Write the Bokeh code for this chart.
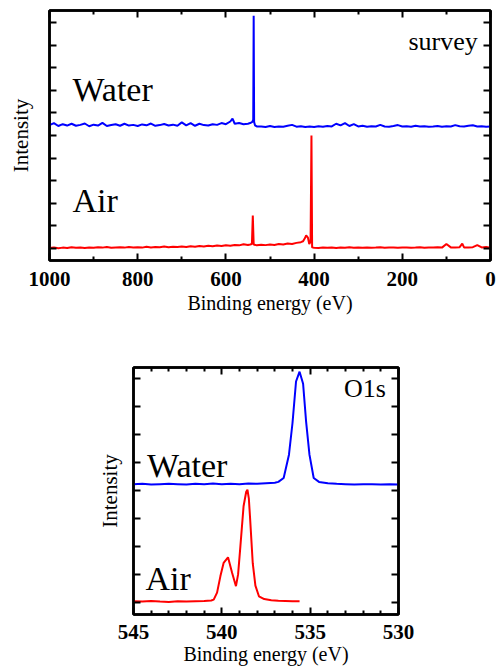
from bokeh.plotting import figure
from bokeh.models import Range1d, LinearAxis, FixedTicker, Label, CustomJSTickFormatter
from bokeh.embed import file_html
from bokeh.resources import INLINE

# ---------------- data: survey spectra ----------------
WATER_SURVEY_EV = [1000, 990, 980, 970, 960, 950, 940, 930, 920, 910,
                   900, 890, 880, 870, 860, 850, 840, 830, 820, 810,
                   800, 790, 780, 770, 760, 750, 740, 730, 720, 710,
                   700, 690, 680, 670, 660, 650, 640, 630, 620, 610,
                   600, 590, 585, 580, 570, 560, 550, 545, 540, 538, 537, 536, 534, 530,
                   520, 510, 500, 490, 480, 470, 460, 450, 440, 430,
                   420, 410, 400, 390, 380, 370, 360, 350, 340, 330,
                   320, 310, 300, 290, 280, 270, 260, 250, 240, 230,
                   220, 210, 200, 190, 180, 170, 160, 150, 140, 130,
                   120, 110, 100, 90, 80, 70, 60, 50, 40, 30, 20, 10, 0]
WATER_SURVEY_I = [5.46, 5.55, 5.42, 5.50, 5.44, 5.52, 5.43, 5.47, 5.53, 5.41,
                  5.48, 5.44, 5.56, 5.42, 5.46, 5.50, 5.43, 5.52, 5.44, 5.47,
                  5.42, 5.49, 5.45, 5.53, 5.43, 5.46, 5.51, 5.44, 5.48, 5.43,
                  5.58, 5.45, 5.55, 5.43, 5.52, 5.46, 5.44, 5.50, 5.47, 5.55,
                  5.50, 5.62, 5.75, 5.52, 5.55, 5.50, 5.52, 5.55, 5.60, 5.70, 10.30, 5.60, 5.45, 5.40,
                  5.40, 5.38, 5.42, 5.38, 5.40, 5.39, 5.43, 5.47, 5.39, 5.41,
                  5.38, 5.40, 5.38, 5.41, 5.39, 5.42, 5.40, 5.52, 5.45, 5.55,
                  5.42, 5.50, 5.40, 5.43, 5.39, 5.41, 5.40, 5.47, 5.40, 5.39,
                  5.42, 5.46, 5.40, 5.41, 5.39, 5.43, 5.40, 5.41, 5.39, 5.40,
                  5.42, 5.39, 5.41, 5.40, 5.46, 5.41, 5.40, 5.43, 5.45, 5.40, 5.41, 5.39, 5.40]

AIR_SURVEY_EV = [1000, 990, 980, 970, 960, 950, 940, 930, 920, 910,
                 900, 890, 880, 870, 860, 850, 840, 830, 820, 810,
                 800, 790, 780, 770, 760, 750, 740, 730, 720, 710,
                 700, 690, 680, 670, 660, 650, 640, 630, 620, 610,
                 600, 590, 580, 570, 560, 550, 545, 541, 539, 537, 530,
                 520, 510, 500, 490, 480, 470, 460, 450, 440, 430,
                 425, 421, 418, 414, 411, 408, 406, 404.5, 400,
                 390, 380, 370, 360, 350, 340, 330, 320, 310, 300,
                 290, 280, 270, 260, 250, 240, 230, 220, 210, 200,
                 190, 180, 170, 160, 150, 140, 130, 120, 110, 100,
                 90, 80, 70, 64, 60, 50, 40, 30, 20, 10, 0]
AIR_SURVEY_I = [0.02, 0.05, 0.01, 0.04, 0.02, 0.06, 0.03, 0.05, 0.02, 0.04,
                0.03, 0.06, 0.04, 0.07, 0.03, 0.05, 0.06, 0.04, 0.07, 0.05,
                0.06, 0.04, 0.08, 0.05, 0.07, 0.06, 0.09, 0.06, 0.08, 0.07,
                0.09, 0.07, 0.10, 0.08, 0.11, 0.09, 0.12, 0.10, 0.13, 0.11,
                0.14, 0.12, 0.16, 0.14, 0.19, 0.16, 0.18, 0.20, 1.46, 0.18, 0.14,
                0.17, 0.15, 0.18, 0.16, 0.20, 0.18, 0.22, 0.20, 0.25, 0.28,
                0.32, 0.45, 0.58, 0.48, 0.20, 0.30, 5.00, 0.05, 0.03,
                0.02, 0.04, 0.03, 0.05, 0.02, 0.04, 0.03, 0.06, 0.03, 0.04,
                0.03, 0.05, 0.03, 0.04, 0.06, 0.03, 0.04, 0.05, 0.03, 0.04,
                0.05, 0.03, 0.04, 0.06, 0.03, 0.05, 0.04, 0.06, 0.04, 0.20,
                0.05, 0.04, 0.06, 0.22, 0.05, 0.04, 0.06, 0.15, 0.05, 0.07, 0.04]

# ---------------- data: O1s spectra ----------------
WATER_O1S_EV = [545.0, 544.5, 544.0, 543.5, 543.0, 542.5, 542.0, 541.5, 541.0, 540.5,
                540.0, 539.5, 539.0, 538.5, 538.0, 537.5, 537.0, 536.8, 536.5, 536.2,
                536.0, 535.8, 535.6, 535.4, 535.23, 535.04, 534.8, 534.5, 534.0, 533.5,
                533.0, 532.5, 532.0, 531.5, 531.0, 530.5, 530.0]
WATER_O1S_I = [4.22, 4.23, 4.21, 4.22, 4.23, 4.22, 4.21, 4.23, 4.22, 4.24,
               4.22, 4.23, 4.22, 4.24, 4.23, 4.25, 4.27, 4.30, 4.44, 5.27,
               6.40, 7.88, 8.23, 7.80, 6.45, 5.27, 4.44, 4.30, 4.25, 4.23,
               4.22, 4.21, 4.22, 4.22, 4.21, 4.22, 4.21]

AIR_O1S_EV = [545.0, 544.5, 544.0, 543.5, 543.0, 542.5, 542.0, 541.5, 541.0, 540.6,
              540.46, 540.27, 540.08, 539.9, 539.65, 539.42, 539.2, 539.08, 538.95, 538.77,
              538.62, 538.55, 538.47, 538.4, 538.25, 538.1, 537.9, 537.6, 537.2, 536.8,
              536.4, 536.0, 535.6]
AIR_O1S_I = [0.04, 0.03, 0.05, 0.03, 0.02, 0.04, 0.03, 0.04, 0.05, 0.07,
             0.10, 0.35, 0.94, 1.41, 1.61, 1.06, 0.58, 1.00, 2.00, 3.43,
             3.95, 4.02, 3.70, 3.00, 1.40, 0.60, 0.22, 0.12, 0.08, 0.06,
             0.05, 0.04, 0.04]

# ---------------- ticks ----------------
SURVEY_XTICKS = [1000, 800, 600, 400, 200, 0]
SURVEY_XMINOR = [900, 700, 500, 300, 100]
SURVEY_YTICKS = [0, 1, 2, 3, 4, 5, 6, 7, 8, 9, 10]
O1S_XTICKS = [545, 540, 535, 530]
O1S_XMINOR = [544, 543, 542, 541, 539, 538, 537, 536, 534, 533, 532, 531]
O1S_YTICKS = [0, 1, 2, 3, 4, 5, 6, 7, 8]

SERIF = "Liberation Serif"
BLUE = "#0000FF"
RED = "#FF0000"


def style(p, xticks, xminor, yticks, ylabel_standoff, tick_standoff, label_standoff):
    p.xgrid.visible = False
    p.ygrid.visible = False
    p.outline_line_color = "black"
    p.outline_line_width = 2.5
    p.background_fill_color = "white"
    p.border_fill_color = "white"
    xb = p.below[0]
    yl = p.left[0]
    above = LinearAxis()
    right = LinearAxis()
    p.add_layout(above, "above")
    p.add_layout(right, "right")
    for ax in (xb, above):
        ax.ticker = FixedTicker(ticks=xticks, minor_ticks=xminor)
    for ax in (yl, right):
        ax.ticker = FixedTicker(ticks=yticks, minor_ticks=[])
    for ax in (xb, above, yl, right):
        ax.axis_line_color = "black"
        ax.axis_line_width = 2.5
        ax.major_tick_in = 7
        ax.major_tick_out = 0
        ax.minor_tick_in = 4
        ax.minor_tick_out = 0
        ax.major_tick_line_width = 2
        ax.minor_tick_line_width = 2
        ax.major_tick_line_color = "black"
        ax.minor_tick_line_color = "black"
    for ax in (above, right, yl):
        ax.formatter = CustomJSTickFormatter(code="return ''")
        ax.major_label_text_font_size = "1px"
        ax.major_label_standoff = 0
    xb.major_label_text_font = SERIF
    xb.major_label_text_font_style = "bold"
    xb.major_label_text_font_size = "21px"
    xb.major_label_text_color = "black"
    xb.major_label_standoff = tick_standoff
    xb.axis_label = "Binding energy (eV)"
    xb.axis_label_text_font = SERIF
    xb.axis_label_text_font_style = "normal"
    xb.axis_label_text_font_size = "20px"
    xb.axis_label_text_color = "black"
    xb.axis_label_standoff = label_standoff
    yl.axis_label = "Intensity"
    yl.axis_label_text_font = SERIF
    yl.axis_label_text_font_style = "normal"
    yl.axis_label_text_font_size = "21px"
    yl.axis_label_text_color = "black"
    yl.axis_label_standoff = ylabel_standoff


def add_text(p, x, y, text, size, align):
    p.add_layout(Label(x=x, y=y, text=text, text_font=SERIF, text_font_size=size,
                       text_align=align, text_baseline="middle", text_color="black"))


# ---------------- survey figure ----------------
p1 = figure(width=497, height=321, x_range=Range1d(1000, 0), y_range=Range1d(-0.53, 10.53),
            output_backend="svg", toolbar_location=None,
            min_border_left=49, min_border_right=7, min_border_top=10, min_border_bottom=61)
style(p1, SURVEY_XTICKS, SURVEY_XMINOR, SURVEY_YTICKS, 17, 11, 3)
p1.line(WATER_SURVEY_EV, WATER_SURVEY_I, line_color=BLUE, line_width=2)
p1.line(AIR_SURVEY_EV, AIR_SURVEY_I, line_color=RED, line_width=2)
add_text(p1, 948, 7.05, "Water", "34px", "left")
add_text(p1, 948, 2.11, "Air", "34px", "left")
add_text(p1, 29, 9.15, "survey", "26px", "right")

# ---------------- O1s figure ----------------
p2 = figure(width=497, height=350, x_range=Range1d(545, 530), y_range=Range1d(-0.43, 8.38),
            output_backend="svg", toolbar_location=None,
            min_border_left=133, min_border_right=99, min_border_top=46, min_border_bottom=57)
style(p2, O1S_XTICKS, O1S_XMINOR, O1S_YTICKS, 12, 10, 1)
p2.line(WATER_O1S_EV, WATER_O1S_I, line_color=BLUE, line_width=2)
p2.line(AIR_O1S_EV, AIR_O1S_I, line_color=RED, line_width=2)
add_text(p2, 544.23, 4.90, "Water", "34px", "left")
add_text(p2, 544.32, 0.87, "Air", "34px", "left")
add_text(p2, 530.71, 7.64, "O1s", "26px", "right")

open("out.html", "w").write(file_html([p1, p2], INLINE))
